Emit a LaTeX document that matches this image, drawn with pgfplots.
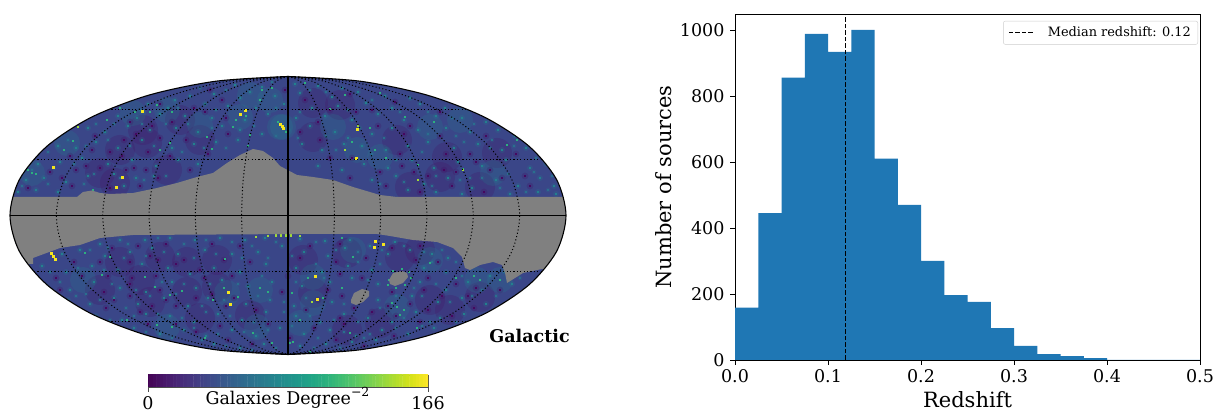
\documentclass[border=0pt]{standalone}
\usepackage{fontspec}
\setmainfont{DejaVu Serif}
\usepackage{pgfplots}
\usepackage{pgfplotstable}
\pgfplotsset{compat=1.18}

\definecolor{mapbase}{HTML}{3A4688}
\definecolor{vdark}{HTML}{3F1A78}
\definecolor{vdeep}{HTML}{46085F}
\definecolor{vteal}{HTML}{23808E}
\definecolor{vmid}{HTML}{2A6F8E}
\definecolor{vgreen}{HTML}{2DB07F}
\definecolor{vlime}{HTML}{A0DA39}
\definecolor{vyellow}{HTML}{F4E61E}
\definecolor{barblue}{HTML}{1F77B4}
\pgfplotsset{
  grain/.style={only marks, mark=square*, mark size=#1, mark options={line width=0pt}},
  soft/.style 2 args={only marks, mark=*, mark size=#1, mark options={draw opacity=0, line width=0pt, fill opacity=#2}},
}
\newcommand\plx[2]{\addplot[#2] coordinates {#1};}
\newcommand\pl[2]{\expandafter\plx\expandafter{#2}{#1}}

% half meridian: c = cos(theta), y in pixels from the top of the picture
\pgfplotstableread{
c y
0 76.5
.259 81.2
.5 95.1
.707 117.2
.866 146
.966 179.5
1 215.5
.966 251.5
.866 285
.707 313.8
.5 335.9
.259 349.8
0 354.5
}\mer

% low counts
\def\darkpts{
(210,90)(285,90)(350,94)(160,104)(222,100)(305,100)(395,102)(130,122)(172,122)(205,112)(330,110)(372,110)(440,112)
(95,136)(136,134)(160,138)(186,140)(228,134)(300,132)(320,140)(378,126)(404,134)(440,136)(486,136)
(70,156)(92,150)(122,156)(148,152)(170,156)(208,154)(330,158)(352,158)(400,154)(446,154)(470,154)(516,154)
(50,172)(76,170)(100,168)(126,170)(146,170)(190,170)(350,178)(380,172)(414,172)(444,170)(490,170)(525,176)
(28,188)(72,186)(110,188)(140,186)(386,186)(420,192)(452,186)(484,192)(530,186)
(112,248)(138,246)(166,244)(212,244)(240,246)(310,246)(340,244)(392,248)(420,246)
(74,262)(100,262)(130,262)(158,260)(184,260)(224,260)(250,262)(300,258)(336,262)(366,258)(416,260)(438,262)
(56,278)(82,276)(108,276)(132,278)(156,276)(204,278)(232,276)(288,276)(340,274)(362,278)(428,278)(456,284)
(60,290)(104,292)(130,296)(160,290)(212,294)(282,292)(342,296)(392,292)(424,290)(476,288)(500,290)
(106,308)(152,306)(176,306)(226,306)(256,310)(306,310)(354,308)(388,306)(428,310)(474,308)
(148,324)(176,324)(220,326)(268,324)(314,328)(344,324)(396,316)(420,322)(452,316)
(228,340)(252,344)(290,338)(336,340)(364,346)(394,336)
(152,126)(124,140)(110,152)(86,166)(62,178)(134,168)(158,178)(402,166)(428,176)(456,172)(476,162)(502,178)(410,126)(356,112)(318,122)(194,108)(226,118)
(150,256)(176,264)(200,270)(130,284)(114,300)(140,312)(166,300)(196,298)(234,298)(328,290)(318,300)(372,312)(410,304)(442,296)(468,296)(196,332)(340,318)}
% middling counts
\def\midpts{
(200,88)(226,90)(272,82)(310,90)(326,92)(372,100)(400,112)(428,112)(452,118)(474,124)(140,110)(178,108)(216,110)(276,108)(300,112)(348,110)
(96,124)(114,124)(142,124)(166,124)(188,124)(212,128)(254,126)(276,136)(298,138)(326,136)(360,128)(384,138)(428,134)(456,136)(492,140)(508,126)
(48,152)(68,140)(86,146)(108,140)(130,146)(154,146)(182,152)(204,148)(226,148)(336,150)(372,154)(396,160)(422,152)(464,142)(490,148)(514,146)(536,158)
(32,170)(54,168)(74,164)(94,174)(120,178)(144,180)(166,176)(380,184)(404,182)(436,176)(460,180)(482,178)(508,174)(534,172)(552,176)
(22,186)(48,184)(84,184)(432,186)(470,178)(500,188)(526,192)(548,190)
(90,250)(108,248)(128,244)(158,238)(184,244)(206,240)(232,242)(252,246)(276,242)(316,242)(336,250)(358,252)(382,250)(404,246)(424,252)(442,250)
(50,272)(78,268)(104,270)(124,258)(146,256)(164,252)(194,258)(216,254)(242,258)(268,258)(292,256)(316,264)(358,262)(380,264)(432,262)(456,262)
(60,282)(86,294)(112,284)(136,290)(162,282)(184,284)(210,284)(238,284)(262,276)(296,282)(324,278)(368,280)(414,288)(436,284)(462,276)(482,290)(504,272)(520,278)
(76,296)(100,300)(126,308)(150,296)(176,294)(202,306)(224,300)(258,296)(284,302)(306,298)(344,304)(366,294)(396,296)(422,296)(450,302)(472,296)(496,296)
(110,320)(134,316)(158,314)(182,318)(206,312)(230,316)(254,322)(284,312)(310,316)(334,320)(358,322)(380,308)(404,318)(430,322)(456,322)
(146,332)(172,338)(194,328)(218,334)(244,332)(268,330)(292,326)(318,338)(344,332)(370,334)(396,328)(422,326)
(202,340)(226,346)(252,350)(276,348)(314,348)(340,348)(364,338)}
% higher counts
\def\tealpts{
(235,85)(262,87)(295,84)(318,86)(342,88)(250,92)
(190,96)(214,94)(240,98)(275,96)(300,93)(332,97)(358,92)(385,96)(410,98)(175,100)
(148,104)(168,108)(205,104)(228,106)(256,108)(284,104)(312,108)(338,106)(366,103)(392,108)(420,104)(445,108)
(118,116)(137,118)(160,114)(185,116)(212,118)(245,120)(268,114)(296,118)(325,116)(352,120)(378,114)(404,120)(436,116)(462,118)(486,122)
(88,128)(105,132)(128,126)(150,130)(176,128)(198,132)(222,126)(240,130)(262,134)(288,130)(310,126)(335,132)(348,138)(372,134)(392,128)(418,130)(446,128)(470,132)(498,130)(515,136)
(58,146)(76,148)(96,142)(118,148)(142,140)(172,148)(194,144)(216,142)(238,140)(302,144)(322,150)(344,144)(362,146)(386,150)(408,146)(428,142)(454,148)(478,144)(502,150)(526,148)
(38,164)(60,162)(82,158)(108,164)(132,160)(156,166)(178,160)(198,164)(318,166)(342,170)(364,164)(388,168)(412,160)(434,168)(458,162)(482,166)(506,160)(530,168)(546,164)
(26,180)(44,178)(66,182)(88,176)(114,174)(136,178)(154,176)(372,180)(396,176)(424,184)(448,178)(472,188)(496,180)(518,186)(540,178)(554,186)
(18,192)(36,190)(58,192)(124,186)(408,190)(436,192)(462,194)(510,194)(538,192)(556,194)
(100,244)(120,240)(145,240)(170,238)(195,240)(220,238)(245,240)(265,238)(300,239)(325,241)(350,240)(370,246)(395,242)
(62,254)(80,250)(105,256)(130,252)(152,248)(178,254)(205,250)(232,254)(258,252)(282,246)(304,252)(328,256)(345,248)(388,254)(410,250)(432,254)(448,258)
(42,266)(66,272)(92,266)(118,270)(142,264)(168,268)(190,274)(214,268)(240,272)(266,264)(296,268)(322,272)(348,266)(372,270)(424,268)(446,272)
(46,286)(70,290)(94,282)(120,288)(146,292)(172,282)(196,288)(222,280)(248,286)(272,282)(302,286)(330,282)(352,278)(378,284)(420,282)(446,290)(468,282)(490,276)(512,284)
(68,300)(90,304)(114,298)(138,304)(164,298)(188,306)(208,298)(246,304)(270,300)(294,306)(332,302)(378,300)(412,296)(438,302)(462,298)(486,304)
(96,316)(122,320)(146,314)(170,316)(194,322)(218,314)(242,320)(266,312)(296,316)(320,322)(344,314)(368,318)(392,322)(416,312)(440,318)(464,314)
(134,328)(160,334)(184,330)(206,336)(232,330)(256,336)(280,328)(304,334)(330,330)(356,336)(382,330)(408,334)(434,328)
(214,344)(240,348)(264,344)(300,346)(326,344)(352,342)(376,340)}

\begin{document}
\begin{tikzpicture}
\useasboundingbox (0,0) rectangle (1214pt,411pt);

% sky map, in picture pixels
\begin{axis}[
    at={(8pt,54.5pt)}, anchor=south west,
    scale only axis, width=560pt, height=282pt,
    xmin=8, xmax=568, ymin=74.5, ymax=356.5, y dir=reverse,
    hide axis, clip mode=individual, clip marker paths=true,
    every axis plot/.append style={forget plot},
]
\addplot[fill=mapbase, draw=none, smooth] table[x expr={288+278*\thisrow{c}}, y=y] {\mer} -- cycle;
\addplot[fill=mapbase, draw=none, smooth] table[x expr={288-278*\thisrow{c}}, y=y] {\mer} -- cycle;

% large scale: under dense patches
\addplot[soft={15pt}{.2}, color=vdeep] coordinates {
(147,143)(100,173)(115,183)(167,170)(143,130)(200,140)(120,150)(180,120)(217,260)(160,257)(187,262)(140,280)(217,287)(187,292)(100,290)(150,302)(120,262)
(313,137)(313,103)(397,140)(340,105)(440,177)(447,157)(497,153)(480,187)(410,187)(420,250)(400,257)(347,253)(303,260)(313,293)(430,300)(380,323)(347,330)(450,310)(480,297)(250,315)(200,318)};
% large scale: over dense patches
\addplot[soft={13pt}{.22}, color=vteal] coordinates {
(240,117)(280,127)(167,110)(133,113)(200,125)(67,143)(32,173)(227,293)(260,290)(167,327)(257,327)(83,280)
(283,127)(357,150)(380,157)(333,127)(430,127)(460,120)(493,173)(313,277)(397,307)(313,303)(300,323)(353,250)(430,260)(477,280)(500,280)(270,100)(250,95)};

% soft halo and grain from the same points
\pl{soft={3.4pt}{.22}, color=vdeep}{\darkpts}
\pl{soft={3pt}{.22}, color=vteal}{\tealpts}
\pl{soft={2.6pt}{.22}, color=vmid}{\midpts}
\pl{grain=.8pt, color=vdeep}{\darkpts}
\pl{grain=.7pt, color=vmid}{\midpts}
\pl{grain=.7pt, color=vteal}{\tealpts}

\addplot[grain=.9pt, color=vgreen] coordinates {
(135,112)(157,105)(172,112)(262,90)(260,100)(272,88)(107,120)(212,149)(207,137)(250,135)(233,127)(248,146)(73,141)(32,173)(36,174)(93,190)(160,150)(170,143)
(278,122)(286,132)(236,120)(246,116)(120,108)(150,112)(64,150)(28,170)
(305,83)(345,95)(380,93)(330,109)(405,117)(434,122)(418,165)(463,169)(507,145)(517,140)(345,150)(370,128)(352,142)(375,150)(386,158)
(85,253)(110,257)(145,277)(102,275)(155,287)(170,295)(182,291)(213,300)(238,297)(225,259)(272,343)(205,338)(172,327)(127,320)(157,325)(253,333)(292,293)(293,342)(260,288)(268,292)(224,288)
(342,238)(353,257)(342,288)(323,298)(308,278)(397,307)(400,315)(300,320)(480,280)(430,263)(417,328)(290,343)(310,352)(350,333)(392,303)(404,310)
(389,280)(393,271)(402,269)(409,272)(411,278)(405,285)(396,288)(388,285)(500,280)(474,276)(456,278)};
\addplot[grain=1pt, color=vyellow] coordinates {
(142,112)(240,115)(245,111)(280,125)(283,129)(53,168)(122,178)(116,188)(51,254)(53,257)(55,260)(228,293)(230,305)
(282,127)(356,159)(357,130)(375,242)(374,248)(383,245)(315,277)(317,300)};
\addplot[grain=.9pt, color=vlime] coordinates {
(276,235.5)(281,235.5)(286,235.5)(291,235.5)(268,236)(300,236)(256,237)(78,127)(345,150)(358,126)(312,302)(418,180)(463,170)};

% masked sky
\addplot[fill=gray, draw=none] coordinates {
(12.5,197)(77,197)(83,192)(92,190.5)(100,193)(110,194)(133,193)(157,188)(177,183)(197,177)(213,173)(227,163)(240,155)(253,149)(263,151)(273,158)(280,166)
(297,175)(313,177)(333,180)(353,187)(380,195)(397,197)(563.5,197)(566,215.5)(564,232)(557.3,250)(544.6,269)
(542,269)(523,273)(507,283)(505,273)(502,265)(493,262)(480,265)(470,270)(465,268)(462,257)(453,248)(437,242)(413,240)(390,236)(377,234)(300,234)(133,235)(100,238)(80,245)(60,248)(33,258)(33,264)(27.5,264)(18.7,250)(12,232)(10,215.5)} -- cycle;
\addplot[fill=gray, draw=none] coordinates {(389,280)(393,273)(402,271)(407,273)(408,277)(403,283)(395,286)(390,284)} -- cycle;
\addplot[fill=gray, draw=none] coordinates {(351,300)(354,293)(362,289)(369,291)(369,296)(363,302)(356,305)(351,303)} -- cycle;

% white outside the rim, so nothing spills past it
\addplot[fill=white, draw=none, smooth] table[x expr={288+278*\thisrow{c}}, y=y] {\mer} -- (axis cs:288,366) -- (axis cs:580,366) -- (axis cs:580,66) -- (axis cs:288,66) -- cycle;
\addplot[fill=white, draw=none, smooth] table[x expr={288-278*\thisrow{c}}, y=y] {\mer} -- (axis cs:288,366) -- (axis cs:0,366) -- (axis cs:0,66) -- (axis cs:288,66) -- cycle;

% graticule
\tikzset{grat/.style={black, line width=1pt, dash pattern=on 1.1pt off 2.3pt}}
\pgfplotsinvokeforeach{-5,-4,-3,-2,-1,1,2,3,4,5}{
\addplot[grat, smooth] table[x expr={288+(#1)*46.33*\thisrow{c}}, y=y] {\mer};
}
\addplot[grat] coordinates {(108,109.5)(468,109.5)};
\addplot[grat] coordinates {(34,159.5)(542,159.5)};
\addplot[grat] coordinates {(34,271.5)(542,271.5)};
\addplot[grat] coordinates {(108,321.5)(468,321.5)};
\addplot[black, line width=1.4pt] coordinates {(288,76.5)(288,354.5)};
\addplot[black, line width=1.4pt] coordinates {(10,215.5)(566,215.5)};
\addplot[black, line width=1.1pt, smooth] table[x expr={288+278*\thisrow{c}}, y=y] {\mer};
\addplot[black, line width=1.1pt, smooth] table[x expr={288-278*\thisrow{c}}, y=y] {\mer};
\end{axis}
\node[font=\fontsize{17.5}{20}\selectfont\bfseries, anchor=center] at (529.5pt,75pt) {Galactic};

% colour bar
\begin{axis}[
    at={(148pt,24pt)}, anchor=south west,
    scale only axis, width=280pt, height=12pt,
    xmin=0, xmax=166, ymin=0, ymax=1,
    colormap name=viridis, point meta min=0, point meta max=166,
    xtick={0,166}, ytick=\empty,
    tick align=outside, major tick length=5pt,
    xticklabel style={font=\fontsize{17.5}{20}\selectfont, /pgf/number format/assume math mode=true, yshift=-1pt},
    tick style={black!70, line width=.8pt},
    axis line style={black!70, line width=.8pt},
    xtick pos=bottom, clip mode=individual,
]
\addplot[matrix plot*, mesh/cols=85, point meta=x] coordinates {
(0,0)(2,0)(4,0)(6,0)(8,0)(10,0)(12,0)(14,0)(16,0)(18,0)(20,0)(22,0)(24,0)(26,0)(28,0)(30,0)(32,0)(34,0)(36,0)(38,0)(40,0)(42,0)(44,0)(46,0)(48,0)(50,0)(52,0)(54,0)(56,0)(58,0)(60,0)(62,0)(64,0)(66,0)(68,0)(70,0)(72,0)(74,0)(76,0)(78,0)(80,0)(82,0)(84,0)(86,0)(88,0)(90,0)(92,0)(94,0)(96,0)(98,0)(100,0)(102,0)(104,0)(106,0)(108,0)(110,0)(112,0)(114,0)(116,0)(118,0)(120,0)(122,0)(124,0)(126,0)(128,0)(130,0)(132,0)(134,0)(136,0)(138,0)(140,0)(142,0)(144,0)(146,0)(148,0)(150,0)(152,0)(154,0)(156,0)(158,0)(160,0)(162,0)(164,0)(166,0)(168,0)
(0,1)(2,1)(4,1)(6,1)(8,1)(10,1)(12,1)(14,1)(16,1)(18,1)(20,1)(22,1)(24,1)(26,1)(28,1)(30,1)(32,1)(34,1)(36,1)(38,1)(40,1)(42,1)(44,1)(46,1)(48,1)(50,1)(52,1)(54,1)(56,1)(58,1)(60,1)(62,1)(64,1)(66,1)(68,1)(70,1)(72,1)(74,1)(76,1)(78,1)(80,1)(82,1)(84,1)(86,1)(88,1)(90,1)(92,1)(94,1)(96,1)(98,1)(100,1)(102,1)(104,1)(106,1)(108,1)(110,1)(112,1)(114,1)(116,1)(118,1)(120,1)(122,1)(124,1)(126,1)(128,1)(130,1)(132,1)(134,1)(136,1)(138,1)(140,1)(142,1)(144,1)(146,1)(148,1)(150,1)(152,1)(154,1)(156,1)(158,1)(160,1)(162,1)(164,1)(166,1)(168,1)
};
\node[font=\fontsize{17.5}{20}\selectfont, anchor=base] at (axis cs:82.7,-1.42) {Galaxies Degree\raisebox{.42em}{\fontsize{12.5}{13}\selectfont −2}};
\end{axis}

% redshift histogram
\begin{axis}[
    at={(735pt,51pt)}, anchor=south west,
    scale only axis, width=465pt, height=346pt,
    xmin=0, xmax=0.5, ymin=0, ymax=1050,
    xtick={0,0.1,0.2,0.3,0.4,0.5}, ytick={0,200,400,600,800,1000},
    tick align=outside, major tick length=5pt, tick pos=left,
    tick style={black, line width=.8pt},
    axis line style={line width=.8pt},
    ticklabel style={font=\fontsize{17.5}{20}\selectfont, /pgf/number format/assume math mode=true},
    xticklabel style={/pgf/number format/fixed, /pgf/number format/fixed zerofill, /pgf/number format/precision=1, yshift=-1pt},
    yticklabel style={/pgf/number format/1000 sep={}, xshift=-2pt},
    scaled ticks=false,
    xlabel={Redshift}, ylabel={Number of sources},
    every axis x label/.style={at={(axis description cs:.5,0)}, anchor=center, yshift=-40pt, font=\fontsize{21}{24}\selectfont},
    every axis y label/.style={at={(axis description cs:0,.5)}, anchor=center, rotate=90, yshift=71pt, font=\fontsize{21}{24}\selectfont},
    legend style={at={(0.9957,0.98)}, anchor=north east, font=\fontsize{12.9}{15}\selectfont, draw=black!20, rounded corners=2pt, inner xsep=5pt, inner ysep=4pt},
    legend image code/.code={\draw[#1] (0pt,0pt) -- (26pt,0pt); \path (36.5pt,0pt);},
]
\addplot[const plot mark left, fill=barblue, draw=none, forget plot] coordinates {
(0,159)(0.025,446)(0.05,857)(0.075,990)(0.1,935)(0.125,1002)(0.15,611)(0.175,471)(0.2,301)(0.225,197)(0.25,176)(0.275,97)(0.3,43)(0.325,18)(0.35,12)(0.375,6)(0.4,0)(0.5,0)} \closedcycle;
\addplot[black, line width=1pt, dash pattern=on 4.5pt off 2pt] coordinates {(0.1187,0)(0.1187,1050)};
\addlegendentry{Median redshift: 0.12\hspace{3pt}}
\end{axis}
\end{tikzpicture}
\end{document}
